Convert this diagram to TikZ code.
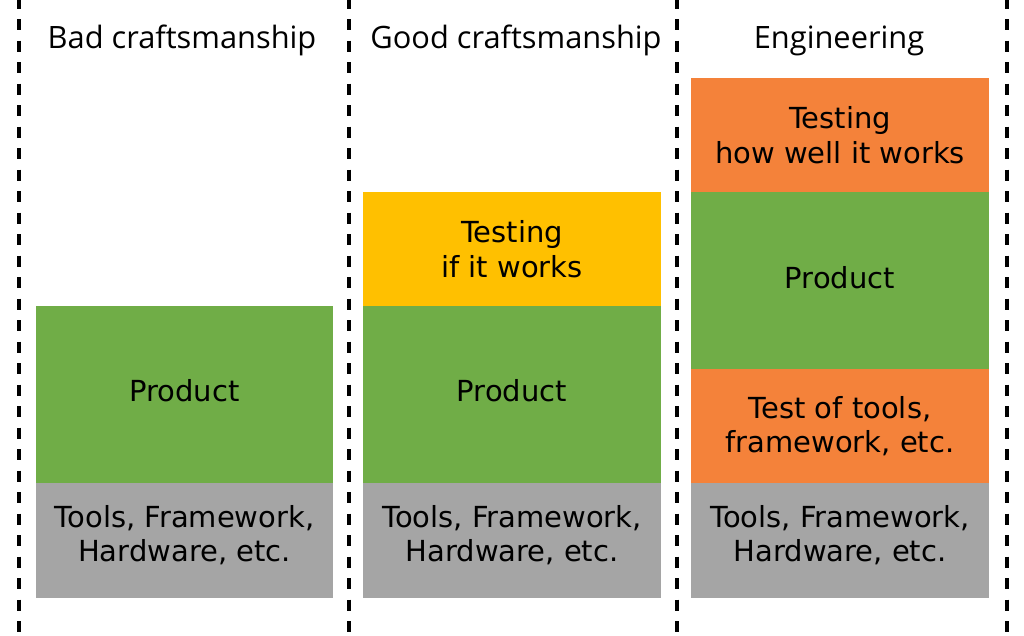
\documentclass[tikz,border=0pt]{standalone}
\usepackage{fontspec}
\setmainfont{DejaVu Sans}
\newfontfamily\titlefont{Open Sans}
\definecolor{cgreen}{HTML}{70AD47}
\definecolor{cyellow}{HTML}{FFC000}
\definecolor{corange}{HTML}{F4823A}
\definecolor{cgray}{HTML}{A5A5A5}
\begin{document}
\begin{tikzpicture}[x=1pt,y=-1pt,
  blk/.style={draw=none,inner sep=0pt,align=center,font=\fontsize{29}{34.5}\selectfont,text=black},
  ttl/.style={inner sep=0pt,font=\titlefont\fontsize{30.8}{34}\selectfont,anchor=base},
  sep/.style={line width=3.5pt,dash pattern=on 11pt off 10.5pt,dash phase=-19pt}]
\useasboundingbox (0,0) rectangle (1024,635);
% separators
\coordinate (s1t) at (19,0); \coordinate (s1b) at (19,635);
\coordinate (s2t) at (349,0); \coordinate (s2b) at (349,635);
\coordinate (s3t) at (677,0); \coordinate (s3b) at (677,635);
\coordinate (s4t) at (1007,0); \coordinate (s4b) at (1007,635);
\draw[sep] (s1t) -- (s1b);
\draw[sep] (s2t) -- (s2b);
\draw[sep] (s3t) -- (s3b);
\draw[sep] (s4t) -- (s4b);
% titles
\node[ttl] (t1) at (182,48) {Bad craftsmanship};
\node[ttl] (t2) at (516,48) {Good craftsmanship};
\node[ttl] (t3) at (839,48) {Engineering};
% column 1
\fill[cgray] (36,483) rectangle (333,598);
\fill[cgreen] (36,306) rectangle (333,483);
\node[blk] (g1) at (184.5,535) {Tools, Framework,\\Hardware, etc.};
\node[blk] (p1) at (184.5,391) {Product};
% column 2
\fill[cgray] (363,483) rectangle (661,598);
\fill[cgreen] (363,306) rectangle (661,483);
\fill[cyellow] (363,192) rectangle (661,306);
\node[blk] (g2) at (512,535) {Tools, Framework,\\Hardware, etc.};
\node[blk] (p2) at (512,391) {Product};
\node[blk] (y2) at (512,249) {Testing\\if it works};
% column 3
\fill[cgray] (691,483) rectangle (989,598);
\fill[corange] (691,369) rectangle (989,483);
\fill[cgreen] (691,192) rectangle (989,369);
\fill[corange] (691,78) rectangle (989,192);
\node[blk] (g3) at (840,535) {Tools, Framework,\\Hardware, etc.};
\node[blk] (o3) at (840,426) {Test of tools,\\framework, etc.};
\node[blk] (p3) at (840,278) {Product};
\node[blk] (q3) at (840,135) {Testing\\how well it works};
\end{tikzpicture}
\end{document}
